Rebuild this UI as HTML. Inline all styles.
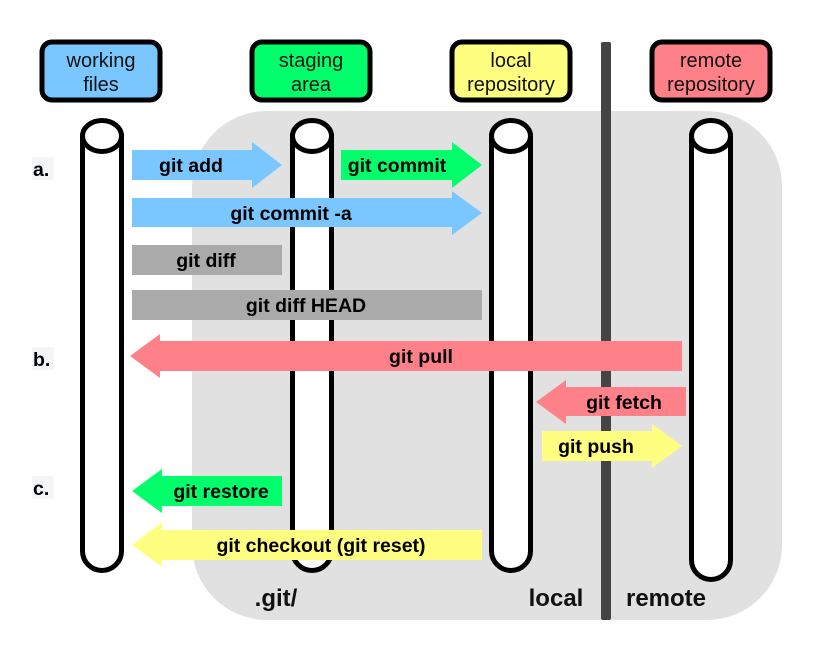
<!DOCTYPE html>
<html><head><meta charset="utf-8"><style>
html,body{margin:0;padding:0;background:#fff;}
svg{display:block;}
text{font-family:"Liberation Sans",Arial,sans-serif;}
.b{font-weight:bold;font-size:19.5px;fill:#000;}
.h{font-size:20px;fill:#111;}
.big{font-weight:bold;font-size:24px;fill:#111;}
</style></head><body>
<svg width="818" height="646" viewBox="0 0 818 646" xmlns="http://www.w3.org/2000/svg">
<path d="M192,186 A75,75 0 0 1 267,111 L707,111 A75,75 0 0 1 782,186 L782,545 A75,75 0 0 1 707,620 L267,620 A75,75 0 0 1 192,545 Z" fill="#e1e1e1"/>
<rect x="601" y="42" width="10" height="578" rx="2" fill="#444"/>
<g stroke="#000" stroke-width="5">
<rect x="42" y="42" width="118" height="58" rx="10" fill="#7ac6fe"/>
<rect x="252" y="42" width="118" height="58" rx="10" fill="#00ff6a"/>
<rect x="452" y="42" width="118" height="58" rx="10" fill="#fefe80"/>
<rect x="652" y="42" width="118" height="58" rx="10" fill="#fe8089"/>
</g>
<g class="h" text-anchor="middle">
<text x="101" y="67">working</text><text x="101" y="91">files</text>
<text x="311" y="67">staging</text><text x="311" y="91">area</text>
<text x="511" y="67">local</text><text x="511" y="91">repository</text>
<text x="711" y="67">remote</text><text x="711" y="91">repository</text>
</g>
<g stroke="#000" stroke-width="5" fill="#fff">
<path d="M82.5,136 L82.5,551 A19.5,19.5 0 0 0 121.5,551 L121.5,136 Z"/>
<ellipse cx="102" cy="136" rx="19.5" ry="15.5"/>
<path d="M292.5,136 L292.5,551 A19.5,19.5 0 0 0 331.5,551 L331.5,136 Z"/>
<ellipse cx="312" cy="136" rx="19.5" ry="15.5"/>
<path d="M491.5,136 L491.5,551 A19.5,19.5 0 0 0 530.5,551 L530.5,136 Z"/>
<ellipse cx="511" cy="136" rx="19.5" ry="15.5"/>
<path d="M691.5,136 L691.5,560 A19.5,19.5 0 0 0 730.5,560 L730.5,136 Z"/>
<ellipse cx="711" cy="136" rx="19.5" ry="15.5"/>
</g>
<rect x="32" y="157" width="22" height="23" fill="#f4f5f7"/>
<rect x="32" y="347" width="22" height="23" fill="#f4f5f7"/>
<rect x="32" y="476" width="22" height="23" fill="#f4f5f7"/>
<text class="b" x="33" y="176">a.</text>
<text class="b" x="33" y="366">b.</text>
<text class="b" x="33" y="495">c.</text>
<polygon points="132,150 252,150 252,142 282,165 252,188 252,180 132,180" fill="#7ac6fe"/>
<text class="b" x="191" y="172" text-anchor="middle">git add</text>
<polygon points="341,150 452,150 452,142 482,165 452,188 452,180 341,180" fill="#00ff6a"/>
<text class="b" x="397" y="172" text-anchor="middle">git commit</text>
<polygon points="132,198 452,198 452,191 482,213 452,235 452,227 132,227" fill="#7ac6fe"/>
<text class="b" x="291" y="220" text-anchor="middle">git commit -a</text>
<rect x="132" y="245" width="150" height="30" fill="#aaa"/>
<text class="b" x="206" y="267" text-anchor="middle">git diff</text>
<rect x="132" y="290" width="350" height="30" fill="#aaa"/>
<text class="b" x="306" y="312" text-anchor="middle">git diff HEAD</text>
<polygon points="130,356 160,334 160,341 682,341 682,371 160,371 160,378" fill="#fe8089"/>
<text class="b" x="421" y="363" text-anchor="middle">git pull</text>
<polygon points="536,402 566,380 566,387 686,387 686,416 566,416 566,424" fill="#fe8089"/>
<text class="b" x="624" y="409" text-anchor="middle">git fetch</text>
<polygon points="542,431 652,431 652,424 682,446 652,468 652,461 542,461" fill="#fefe80"/>
<text class="b" x="596" y="453" text-anchor="middle">git push</text>
<polygon points="132,491 162,469 162,476 282,476 282,506 162,506 162,513" fill="#00ff6a"/>
<text class="b" x="221" y="498" text-anchor="middle">git restore</text>
<polygon points="132,545 162,522 162,530 482,530 482,560 162,560 162,567" fill="#fefe80"/>
<text class="b" x="321" y="552" text-anchor="middle">git checkout (git reset)</text>
<text class="big" x="276" y="606" text-anchor="middle">.git/</text>
<text class="big" x="556" y="606" text-anchor="middle">local</text>
<text class="big" x="666" y="606" text-anchor="middle">remote</text>
</svg>
</body></html>
